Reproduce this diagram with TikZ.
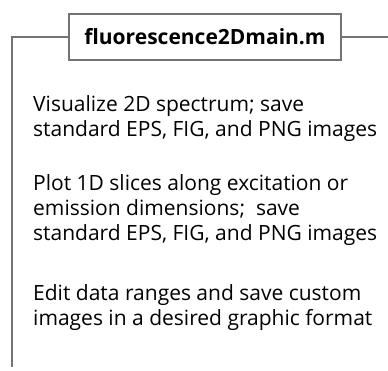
\documentclass[tikz,border=0pt]{standalone}
\usepackage{fontspec}
\setmainfont{Open Sans}
\begin{document}
\begin{tikzpicture}[x=1pt,y=-1pt,
  wire/.style={draw=black!55,line width=1.6pt},
  titlebox/.style={draw=black!55,line width=1.6pt,fill=white,minimum width=272pt,minimum height=46pt,inner sep=0pt,font=\fontsize{21}{25}\selectfont\bfseries},
  bodyline/.style={anchor=base west,inner sep=0pt,font=\fontsize{21}{25}\selectfont}]
\useasboundingbox (0,0) rectangle (388,370);
\node[titlebox] (title) at (205,37) {fluorescence2Dmain.m};
\coordinate (rightend) at (388,37);
\coordinate (bottomend) at (12,367);
\draw[wire] (title.west) -| (bottomend);
\draw[wire] (title.east) -- (rightend);
% first task
\node[bodyline] (a1) at (33,111) {Visualize 2D spectrum; save};
\node[bodyline] (a2) at (33,136) {standard EPS, FIG, and PNG images};
% second task
\node[bodyline] (b1) at (33,190) {Plot 1D slices along excitation or};
\node[bodyline] (b2) at (33,215) {emission dimensions;\ \ save};
\node[bodyline] (b3) at (33,240) {standard EPS, FIG, and PNG images};
% third task
\node[bodyline] (c1) at (33,300) {Edit data ranges and save custom};
\node[bodyline] (c2) at (33,325) {images in a desired graphic format};
\end{tikzpicture}
\end{document}
